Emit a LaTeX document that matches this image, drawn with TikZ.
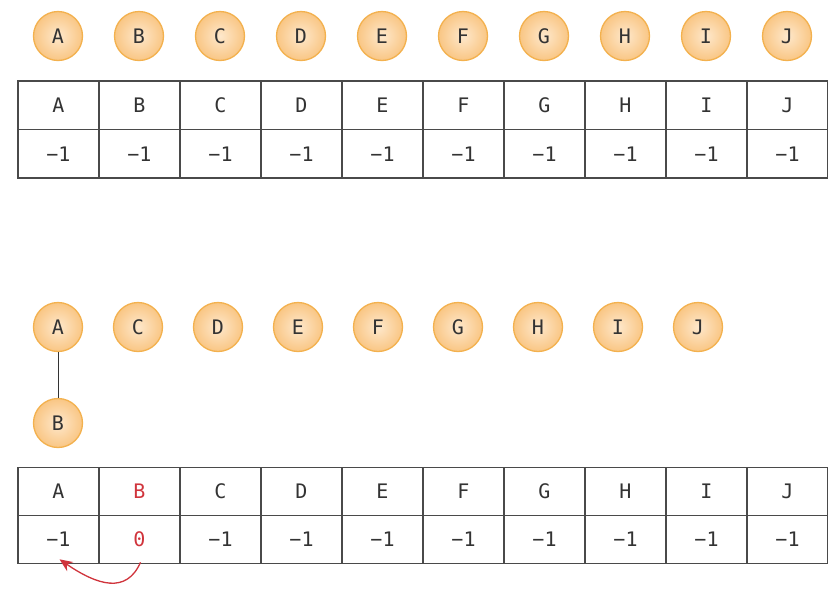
\documentclass[tikz,border=0pt]{standalone}
\usepackage{fontspec}
\setmonofont{DejaVu Sans Mono}
\usetikzlibrary{arrows.meta}
\definecolor{ink}{HTML}{333333}
\definecolor{grid}{HTML}{4A4A4A}
\definecolor{ballin}{HTML}{FEE8CC}
\definecolor{ballout}{HTML}{F9C684}
\definecolor{ballrim}{HTML}{F3B14E}
\definecolor{hl}{HTML}{D0343C}
\tikzset{
  ball/.style={circle, minimum size=49pt, inner sep=0pt, draw=ballrim, line width=1.3pt,
    inner color=ballin, outer color=ballout, text=ink, font=\ttfamily\fontsize{20}{20}\selectfont},
  cell/.style={rectangle, draw=grid, line width=1.1pt, minimum width=81pt, minimum height=48.5pt,
    inner sep=0pt, text=ink, font=\ttfamily\fontsize{20}{20}\selectfont},
  link/.style={draw=ink, line width=0.9pt},
  back/.style={draw=hl, line width=1.3pt, -{Stealth[length=13pt,width=11pt]}}
}
\begin{document}
\begin{tikzpicture}[x=1pt,y=-1pt]
\useasboundingbox (0,0) rectangle (828,595);
% top row of balls
\foreach \l [count=\i from 0] in {A,B,C,D,E,F,G,H,I,J}
  \node[ball] (t\l) at ({58+81*\i},36) {\l};
% top table
\foreach \l [count=\i from 0] in {A,B,C,D,E,F,G,H,I,J}{
  \node[cell] (tk\l) at ({58.5+81*\i},105.25) {\l};
  \node[cell] (tv\l) at ({58.5+81*\i},153.75) {−1};
}
% bottom balls
\node[ball] (bA) at (58,327) {A};
\foreach \l [count=\i from 1] in {C,D,E,F,G,H,I,J}
  \node[ball] (b\l) at ({58+80*\i},327) {\l};
\node[ball] (bB) at (58,423) {B};
\draw[link] (bA) -- (bB);
% bottom table
\foreach \l [count=\i from 0] in {A,B,C,D,E,F,G,H,I,J}{
  \ifnum\i=1
    \node[cell,text=hl] (k\l) at ({58.5+81*\i},491.5) {\l};
    \node[cell,text=hl] (v\l) at ({58.5+81*\i},539.5) {0};
  \else
    \node[cell] (k\l) at ({58.5+81*\i},491.5) {\l};
    \node[cell] (v\l) at ({58.5+81*\i},539.5) {−1};
  \fi
}
\draw[back] ([xshift=1pt,yshift=2pt]vB.south) .. controls +(-14,32) and +(38,26) .. ([xshift=1pt,yshift=5pt]vA.south);
\end{tikzpicture}
\end{document}
